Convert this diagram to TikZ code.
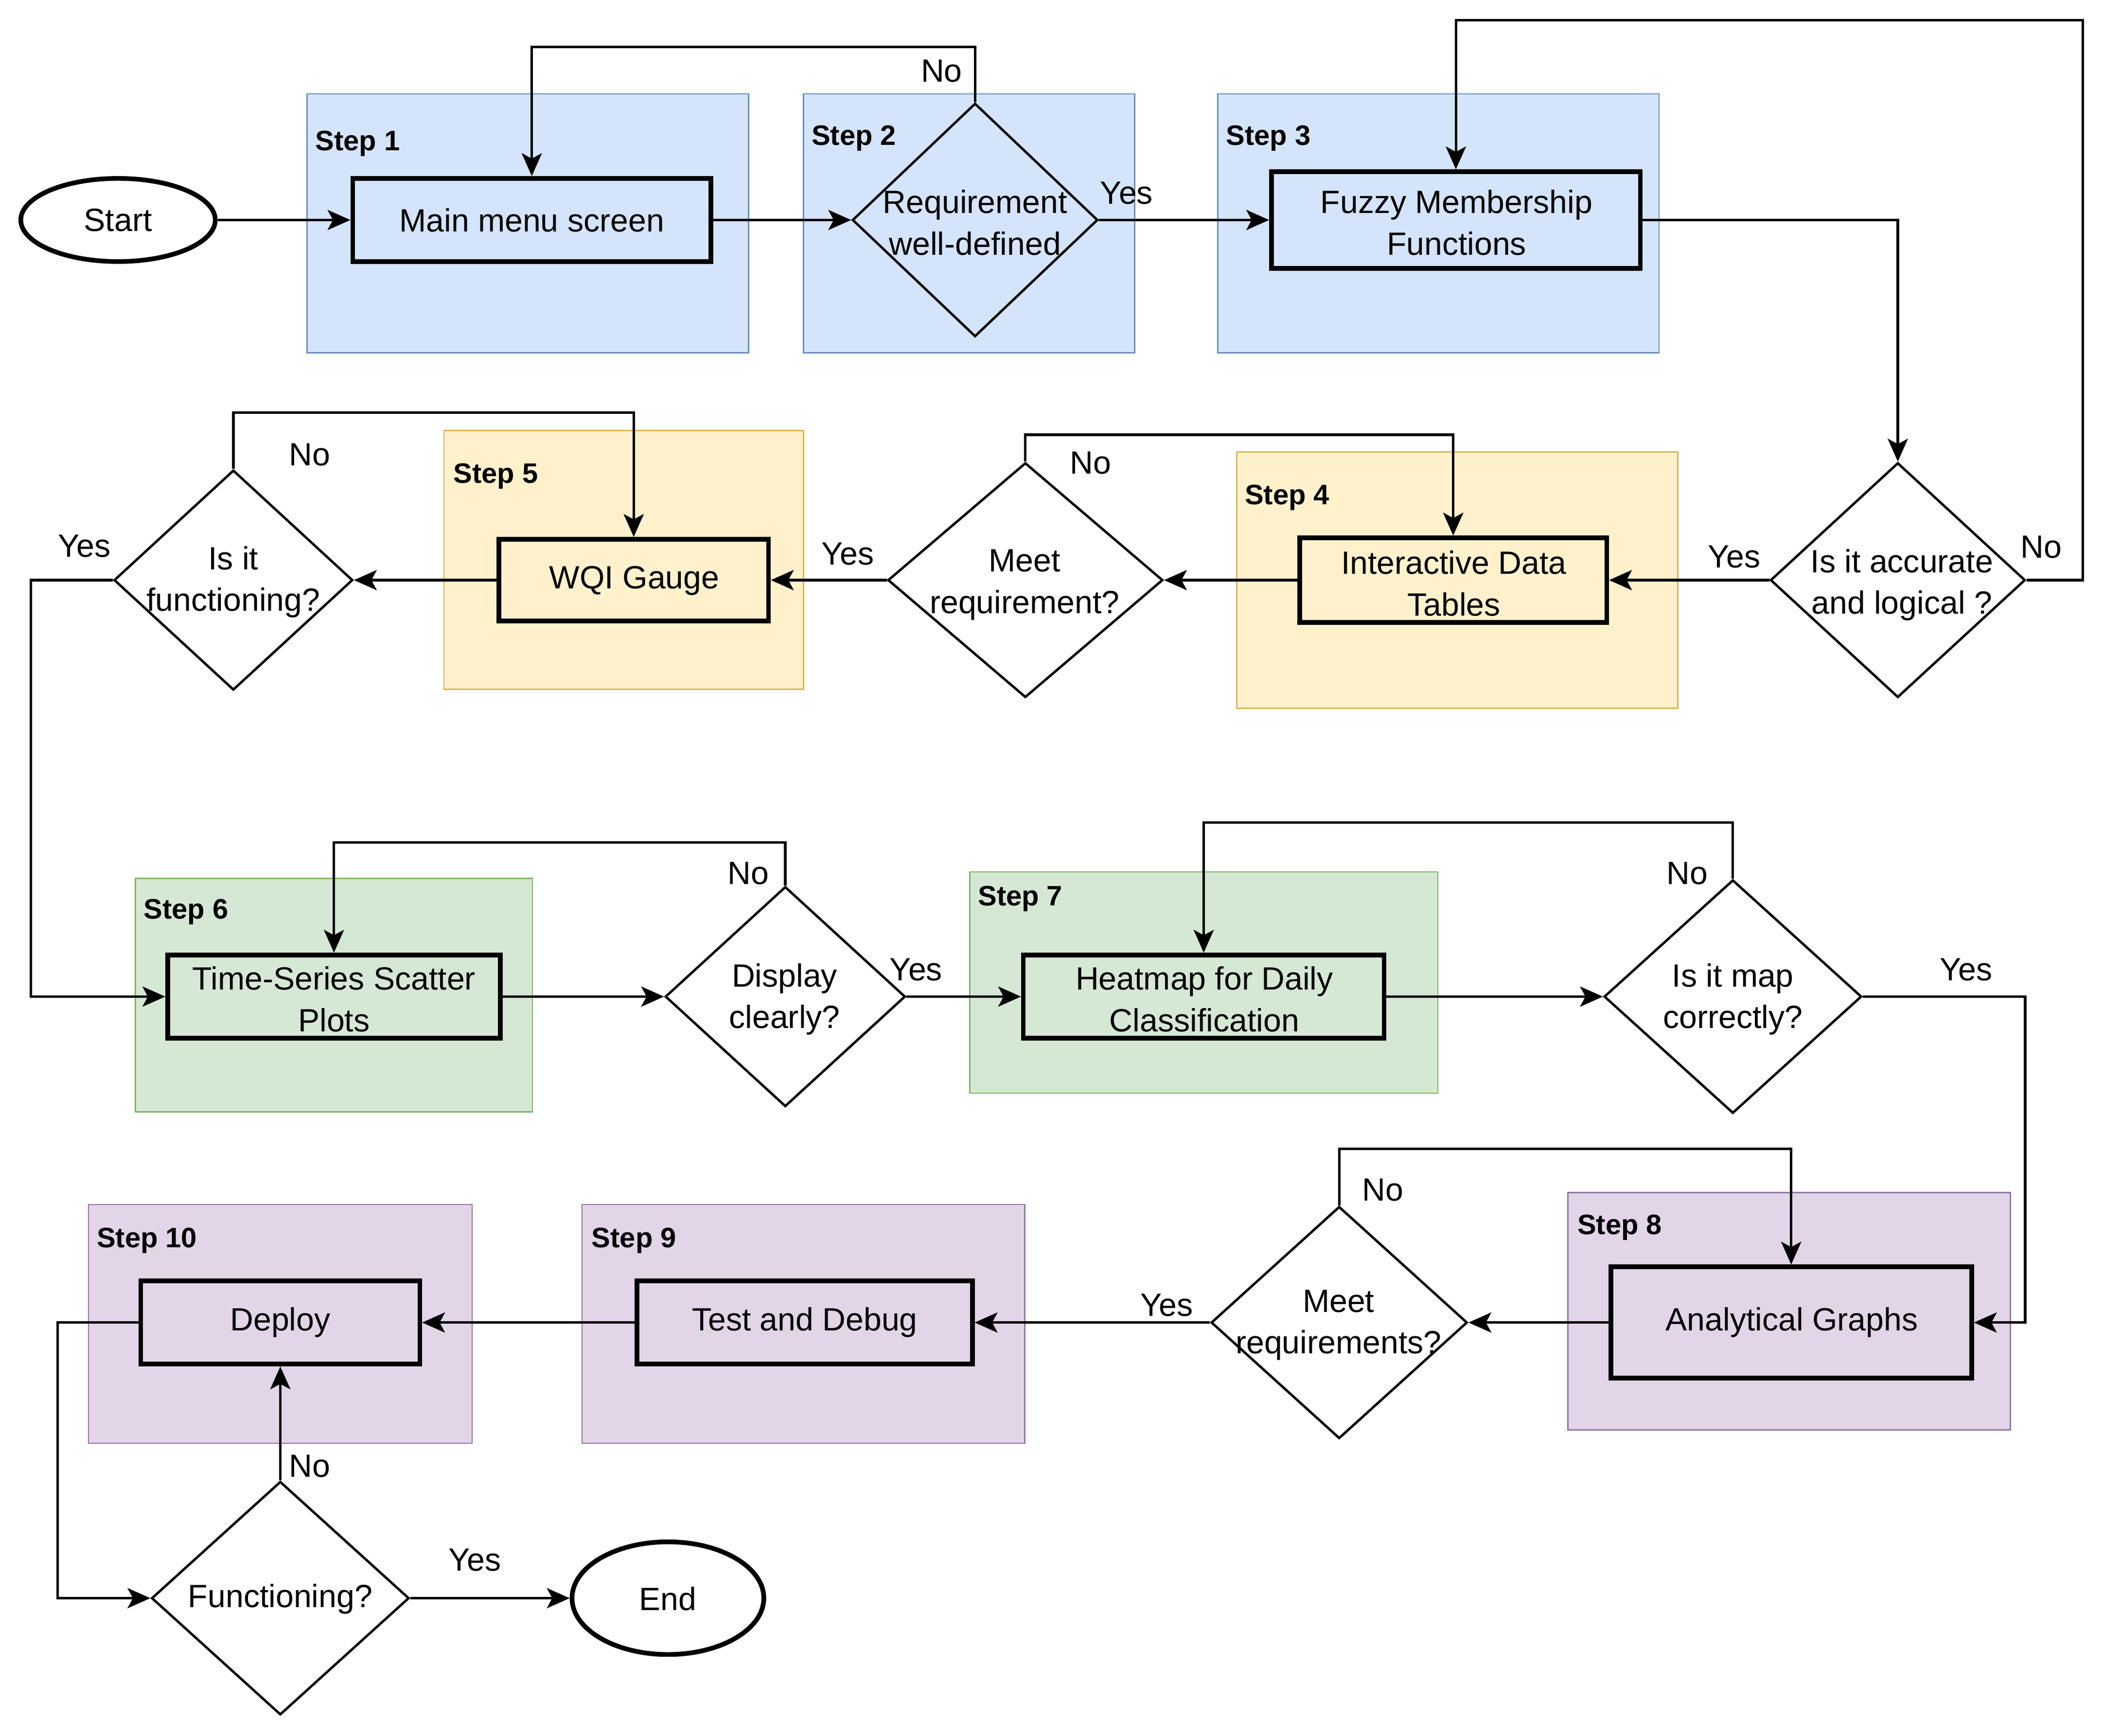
\documentclass[tikz,border=0pt]{standalone}
\usepackage{fontspec}
\setmainfont{Liberation Sans}
\usetikzlibrary{arrows.meta,shapes.geometric}
\definecolor{bfill}{HTML}{D4E4FA}
\definecolor{bline}{HTML}{6C8EBF}
\definecolor{yfill}{HTML}{FFF1CC}
\definecolor{yline}{HTML}{D6B656}
\definecolor{gfill}{HTML}{D5E8D4}
\definecolor{gline}{HTML}{82B366}
\definecolor{pfill}{HTML}{E1D5E7}
\definecolor{pline}{HTML}{9673A6}
\tikzset{
  stepbox/.style={draw, line width=1pt, inner sep=0pt, rectangle},
  steplbl/.style={anchor=west, inner sep=0pt, font=\fontsize{21}{25}\selectfont\bfseries},
  procbox/.style={draw, line width=3.5pt, inner sep=0pt, rectangle},
  decis/.style={draw, line width=1.8pt, diamond, inner sep=0pt},
  term/.style={draw, line width=3.5pt, ellipse, inner sep=0pt},
  txt/.style={inner sep=0pt, align=center, font=\fontsize{24}{31}\selectfont},
  arr/.style={line width=1.9pt, -{Stealth[length=17pt,width=15pt,inset=4pt]}},
}
\begin{document}
\begin{tikzpicture}[x=1pt,y=-1pt]
\useasboundingbox (0,0) rectangle (1568,1294);
\fill[white] (0,0) rectangle (1568,1294);
% step backgrounds
\node[stepbox, fill=bfill, draw=bline, minimum width=329, minimum height=193] (s1) at (393.5,166.5) {};
\node[stepbox, fill=bfill, draw=bline, minimum width=247, minimum height=193] (s2) at (722.5,166.5) {};
\node[stepbox, fill=bfill, draw=bline, minimum width=329, minimum height=193] (s3) at (1072.5,166.5) {};
\node[stepbox, fill=yfill, draw=yline, minimum width=329, minimum height=191] (s4) at (1086.5,432.5) {};
\node[stepbox, fill=yfill, draw=yline, minimum width=268, minimum height=193] (s5) at (465,417.5) {};
\node[stepbox, fill=gfill, draw=gline, minimum width=296, minimum height=174] (s6) at (249,742) {};
\node[stepbox, fill=gfill, draw=gline, minimum width=349, minimum height=165] (s7) at (897.5,732.5) {};
\node[stepbox, fill=pfill, draw=pline, minimum width=330, minimum height=177] (s8) at (1334,977.5) {};
\node[stepbox, fill=pfill, draw=pline, minimum width=330, minimum height=178] (s9) at (599,987) {};
\node[stepbox, fill=pfill, draw=pline, minimum width=286, minimum height=178] (s10) at (209,987) {};
\node[steplbl] (s1l) at (235,107) {Step 1};
\node[steplbl] (s2l) at (605,103) {Step 2};
\node[steplbl] (s3l) at (914,103) {Step 3};
\node[steplbl] (s4l) at (928,371) {Step 4};
\node[steplbl] (s5l) at (338,355) {Step 5};
\node[steplbl] (s6l) at (107,680) {Step 6};
\node[steplbl] (s7l) at (729,670) {Step 7};
\node[steplbl] (s8l) at (1176,915) {Step 8};
\node[steplbl] (s9l) at (441,925) {Step 9};
\node[steplbl] (s10l) at (72,925) {Step 10};
% terminals
\node[term, minimum width=145, minimum height=62] (start) at (88,164) {};
\node[txt] (startt) at (88,164) {Start};
\node[term, minimum width=143, minimum height=84] (end) at (498,1191.5) {};
\node[txt] (endt) at (498,1192) {End};
% process boxes
\node[procbox, minimum width=267, minimum height=62] (main) at (396.5,164) {};
\node[txt] (maint) at (396.5,164) {Main menu screen};
\node[procbox, minimum width=275, minimum height=72] (fuzzy) at (1085.5,164) {};
\node[txt] (fuzzyt) at (1086,166) {Fuzzy Membership\\Functions};
\node[procbox, minimum width=229, minimum height=63] (idt) at (1083.5,432.5) {};
\node[txt] (idtt) at (1084,435) {Interactive Data\\Tables};
\node[procbox, minimum width=201, minimum height=61] (wqi) at (472.5,432.5) {};
\node[txt] (wqit) at (473,433) {WQI Gauge};
\node[procbox, minimum width=248, minimum height=62] (ts) at (249,743) {};
\node[txt] (tst) at (249,745) {Time-Series Scatter\\Plots};
\node[procbox, minimum width=269, minimum height=62] (hm) at (897.5,743) {};
\node[txt] (hmt) at (898,745) {Heatmap for Daily\\Classification};
\node[procbox, minimum width=269, minimum height=83] (ag) at (1335.5,986) {};
\node[txt] (agt) at (1336,986) {Analytical Graphs};
\node[procbox, minimum width=250, minimum height=62] (td) at (600,986) {};
\node[txt] (tdt) at (600,986) {Test and Debug};
\node[procbox, minimum width=208, minimum height=62] (dep) at (209,986) {};
\node[txt] (dept) at (209,986) {Deploy};
% decisions
\node[decis, minimum width=183, minimum height=174] (d1) at (727,164) {};
\node[txt] (d1t) at (727,166) {Requirement\\well-defined};
\node[decis, minimum width=190, minimum height=175] (d2) at (1415,432.5) {};
\node[txt] (d2t) at (1418,436) {Is it accurate\\and logical ?};
\node[decis, minimum width=205, minimum height=175] (d3) at (764.5,432.5) {};
\node[txt] (d3t) at (764,436) {Meet\\requirement?};
\node[decis, minimum width=178, minimum height=164] (d4) at (174,432.5) {};
\node[txt] (d4t) at (174,434) {Is it\\functioning?};
\node[decis, minimum width=179, minimum height=164] (d5) at (585.5,743) {};
\node[txt] (d5t) at (585,745) {Display\\clearly?};
\node[decis, minimum width=192, minimum height=174] (d6) at (1292,743) {};
\node[txt] (d6t) at (1292,745) {Is it map\\correctly?};
\node[decis, minimum width=191, minimum height=173] (d7) at (998.5,986) {};
\node[txt] (d7t) at (998,988) {Meet\\requirements?};
\node[decis, minimum width=192, minimum height=174] (d8) at (209,1191.5) {};
\node[txt] (d8t) at (209,1192) {Functioning?};
% coordinates for bends
\coordinate (c6) at (1553,15);
\coordinate (c13) at (23,743);
\coordinate (c19) at (1510,986);
\coordinate (c24) at (43,1191.5);
% connectors
\draw[arr] (start.east) -- (main.west);
\draw[arr] (main.east) -- (d1.west);
\draw[arr] (d1.north) -- ++(0,-41) -| (main.north);
\draw[arr] (d1.east) -- (fuzzy.west);
\draw[arr] (fuzzy.east) -| (d2.north);
\draw[arr] (d2.east) -| (c6) -| (fuzzy.north);
\draw[arr] (d2.west) -- (idt.east);
\draw[arr] (idt.west) -- (d3.east);
\draw[arr] (d3.north) -- ++(0,-20) -| (idt.north);
\draw[arr] (d3.west) -- (wqi.east);
\draw[arr] (wqi.west) -- (d4.east);
\draw[arr] (d4.north) -- ++(0,-42) -| (wqi.north);
\draw[arr] (d4.west) -| (c13) -- (ts.west);
\draw[arr] (ts.east) -- (d5.west);
\draw[arr] (d5.north) -- ++(0,-32) -| (ts.north);
\draw[arr] (d5.east) -- (hm.west);
\draw[arr] (hm.east) -- (d6.west);
\draw[arr] (d6.north) -- ++(0,-42) -| (hm.north);
\draw[arr] (d6.east) -| (c19) -- (ag.east);
\draw[arr] (ag.west) -- (d7.east);
\draw[arr] (d7.north) -- ++(0,-42) -| (ag.north);
\draw[arr] (d7.west) -- (td.east);
\draw[arr] (td.west) -- (dep.east);
\draw[arr] (dep.west) -| (c24) -- (d8.west);
\draw[arr] (d8.north) -- (dep.south);
\draw[arr] (d8.east) -- (end.west);
% yes / no labels
\node[txt] (l1) at (702,53) {No};
\node[txt] (l2) at (840,144) {Yes};
\node[txt] (l3) at (1522,408) {No};
\node[txt] (l4) at (1293,415) {Yes};
\node[txt] (l5) at (813,345) {No};
\node[txt] (l6) at (632,413) {Yes};
\node[txt] (l7) at (231,339) {No};
\node[txt] (l8) at (63,407) {Yes};
\node[txt] (l9) at (558,651) {No};
\node[txt] (l10) at (683,723) {Yes};
\node[txt] (l11) at (1258,651) {No};
\node[txt] (l12) at (1466,723) {Yes};
\node[txt] (l13) at (1031,887) {No};
\node[txt] (l14) at (870,973) {Yes};
\node[txt] (l15) at (231,1093) {No};
\node[txt] (l16) at (354,1163) {Yes};
\end{tikzpicture}
\end{document}
